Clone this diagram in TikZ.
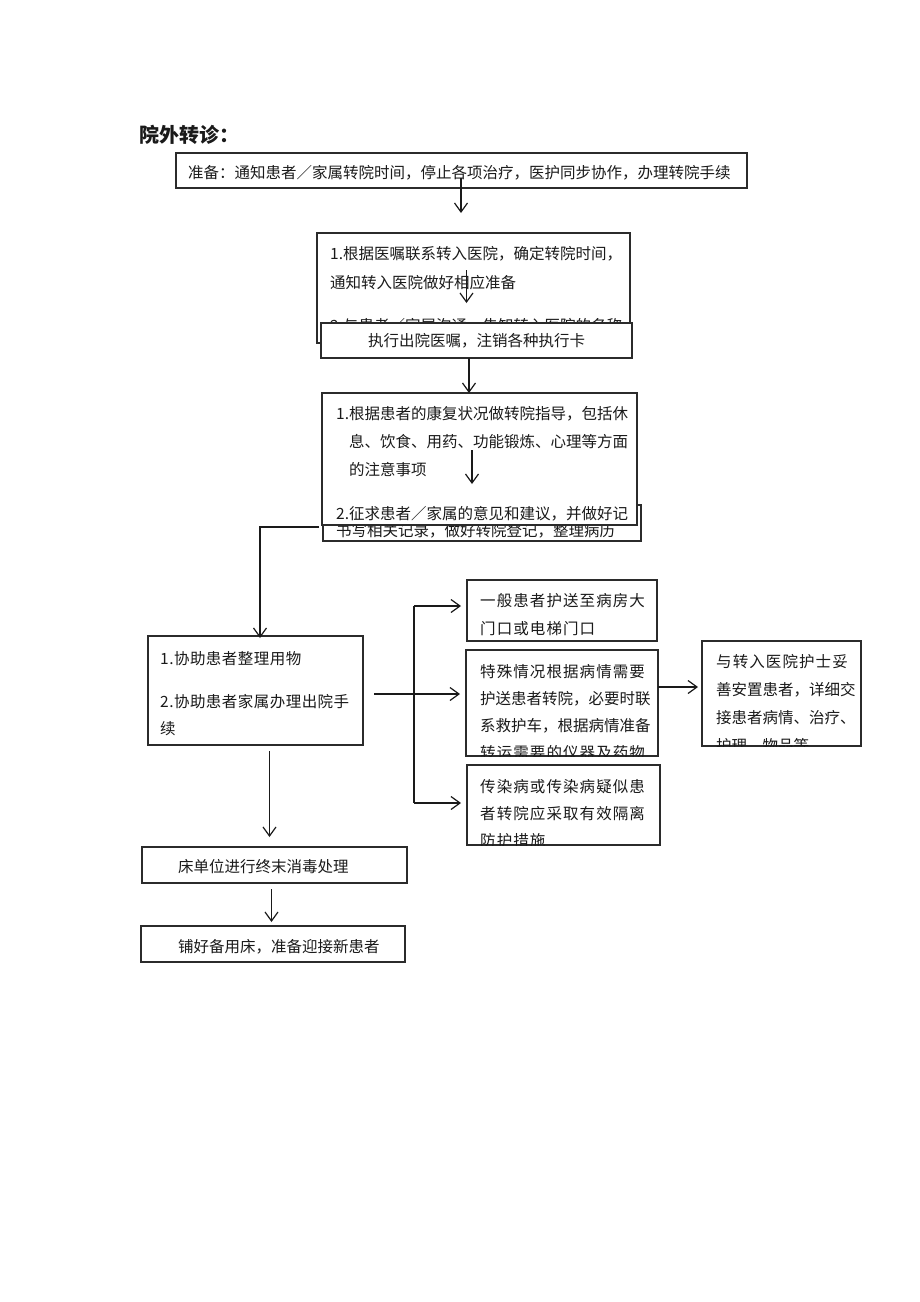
\documentclass[tikz,border=0pt]{standalone}
\usepackage{fontspec}
\setmainfont{Noto Sans CJK SC}
\usetikzlibrary{arrows.meta}

\tikzset{
  box/.style={draw=cBox, line width=1.3pt, fill=white, inner sep=0pt, outer sep=0pt},
  txt/.style={anchor=north west, align=left, inner sep=0pt, text=cText},
  arr/.style={draw=cLine, line width=1.2pt, -{Straight Barb[length=9pt,width=13pt]}},
  lnk/.style={draw=cLine, line width=1.2pt},
}
\newcommand{\wide}[1]{{\addfontfeatures{LetterSpace=7}#1}}

\begin{document}
\begin{tikzpicture}[x=1pt, y=-1pt]
	\definecolor{cBox}{HTML}{2B2B2B}
	\definecolor{cLine}{HTML}{1A1A1A}
	\definecolor{cText}{HTML}{1A1A1A}

	\useasboundingbox[fill=white] (0,0) rectangle (920,1302);

	\node[anchor=north west, inner sep=0pt, text=cText, font=\fontsize{20}{22}\selectfont\bfseries] (title) at (139,125) {院外转诊：};

	% preparation
	\node[box, minimum width=571pt, minimum height=35pt] (prep) at (461.5,170.5) {};
	\node[txt, font=\fontsize{15.5}{28}\selectfont] (tprep) at (188,165) {准备：通知患者／家属转院时间，停止各项治疗，医护同步协作，办理转院手续};

	% contact the receiving hospital
	\node[box, minimum width=313pt, minimum height=110pt] (contact) at (473.5,288) {};
	\begin{scope}
		\clip (contact.south west) rectangle (contact.north east);
		\node[txt, font=\fontsize{15.5}{29}\selectfont] (tcontact) at (330,246) {1.根据医嘱联系转入医院，确定转院时间，\\通知转入医院做好相应准备\\[14pt]2.与患者／家属沟通，告知转入医院的名称};
	\end{scope}

	\node[box, minimum width=311pt, minimum height=35pt, text=cText, font=\fontsize{15.5}{20}\selectfont] (orders) at (476.5,340.5) {执行出院医嘱，注销各种执行卡};

	% records box, mostly hidden
	\node[box, minimum width=318pt, minimum height=36pt] (records) at (482,523) {};
	\begin{scope}
		\clip (records.south west) rectangle (records.north east);
		\node[txt, font=\fontsize{15.5}{28}\selectfont] (trecords) at (336,523) {书写相关记录，做好转院登记，整理病历};
	\end{scope}

	% guidance
	\node[box, minimum width=315pt, minimum height=132pt] (guide) at (479.5,459) {};
	\node[txt, font=\fontsize{15.5}{28}\selectfont] (tguide) at (336,406) {1.根据患者的康复状况做转院指导，包括休\\\hspace*{13pt}息、饮食、用药、功能锻炼、心理等方面\\\hspace*{13pt}的注意事项\\[16pt]2.征求患者／家属的意见和建议，并做好记};

	% assist
	\node[box, minimum width=215pt, minimum height=109pt] (assist) at (255.5,690.5) {};
	\node[txt, font=\fontsize{15.5}{27}\selectfont\addfontfeatures{LetterSpace=3}] (tassist) at (160,651) {1.协助患者整理用物\\[16pt]2.协助患者家属办理出院手\\续};

	% escort cases
	\node[box, minimum width=190pt, minimum height=61pt] (general) at (562,610.5) {};
	\node[txt, font=\fontsize{15.5}{28}\selectfont] (tgeneral) at (480,593) {\wide{一般患者护送至病房大}\\\wide{门口或电梯门口}};

	\node[box, minimum width=192pt, minimum height=106pt] (special) at (562,703) {};
	\begin{scope}
		\clip (special.south west) rectangle (special.north east);
		\node[txt, font=\fontsize{15.5}{27}\selectfont] (tspecial) at (480,664) {\wide{特殊情况根据病情需要}\\护送患者转院，必要时联\\系救护车，根据病情准备\\\wide{转运需要的仪器及药物}};
	\end{scope}

	\node[box, minimum width=193pt, minimum height=80pt] (infect) at (563.5,805) {};
	\begin{scope}
		\clip (infect.south west) rectangle (infect.north east);
		\node[txt, font=\fontsize{15.5}{27}\selectfont] (tinfect) at (480,779) {\wide{传染病或传染病疑似患}\\\wide{者转院应采取有效隔离}\\\wide{防护措施}};
	\end{scope}

	\node[box, minimum width=159pt, minimum height=105pt] (handover) at (781.5,693.5) {};
	\begin{scope}
		\clip (handover.south west) rectangle (handover.north east);
		\node[txt, font=\fontsize{15.5}{28}\selectfont] (thandover) at (716,654) {\wide{与转入医院护士妥}\\善安置患者，详细交\\接患者病情、治疗、\\护理、物品等};
	\end{scope}

	% bed
	\node[box, minimum width=265pt, minimum height=36pt] (clean) at (274.5,865) {};
	\node[txt, font=\fontsize{15.5}{28}\selectfont] (tclean) at (178,859) {床单位进行终末消毒处理};
	\node[box, minimum width=264pt, minimum height=36pt] (newbed) at (273,944) {};
	\node[txt, font=\fontsize{15.5}{28}\selectfont] (tnewbed) at (178,939) {铺好备用床，准备迎接新患者};

	% arrows
	\coordinate (p1) at (461,178);
	\coordinate (p2) at (461,213);
	\draw[arr] (p1) -- (p2);
	\coordinate (p3) at (466.5,270);
	\coordinate (p4) at (466.5,303);
	\draw[arr] (p3) -- (p4);
	\coordinate (x469) at (469,0);
	\draw[arr] (orders.south -| x469) -- (guide.north -| x469);
	\coordinate (p5) at (472,450);
	\coordinate (p6) at (472,484);
	\draw[arr] (p5) -- (p6);

	\coordinate (p7) at (319,527);
	\draw[arr] (p7) -| ([xshift=4.5pt, yshift=-2pt]assist.north);

	\coordinate (b0) at (374,694);
	\coordinate (b1) at (414,606);
	\coordinate (b2) at (414,694);
	\coordinate (b3) at (414,803);
	\draw[lnk] (b1) -- (b3);
	\draw[arr, shorten >=6pt] (b0) -- (b0 -| special.west);
	\draw[arr, shorten >=6pt] (b1) -- (b1 -| general.west);
	\draw[arr, shorten >=6pt] (b3) -- (b3 -| infect.west);

	\coordinate (p8) at (658,687);
	\draw[arr, shorten >=4pt] (p8) -- (p8 -| handover.west);

	\coordinate (x269) at (269.5,0);
	\draw[arr, shorten <=6pt, shorten >=10pt] (assist.south -| x269) -- (clean.north -| x269);
	\coordinate (x272) at (271.5,0);
	\draw[arr, shorten <=6pt, shorten >=4pt] (clean.south -| x272) -- (newbed.north -| x272);
\end{tikzpicture}
\end{document}
